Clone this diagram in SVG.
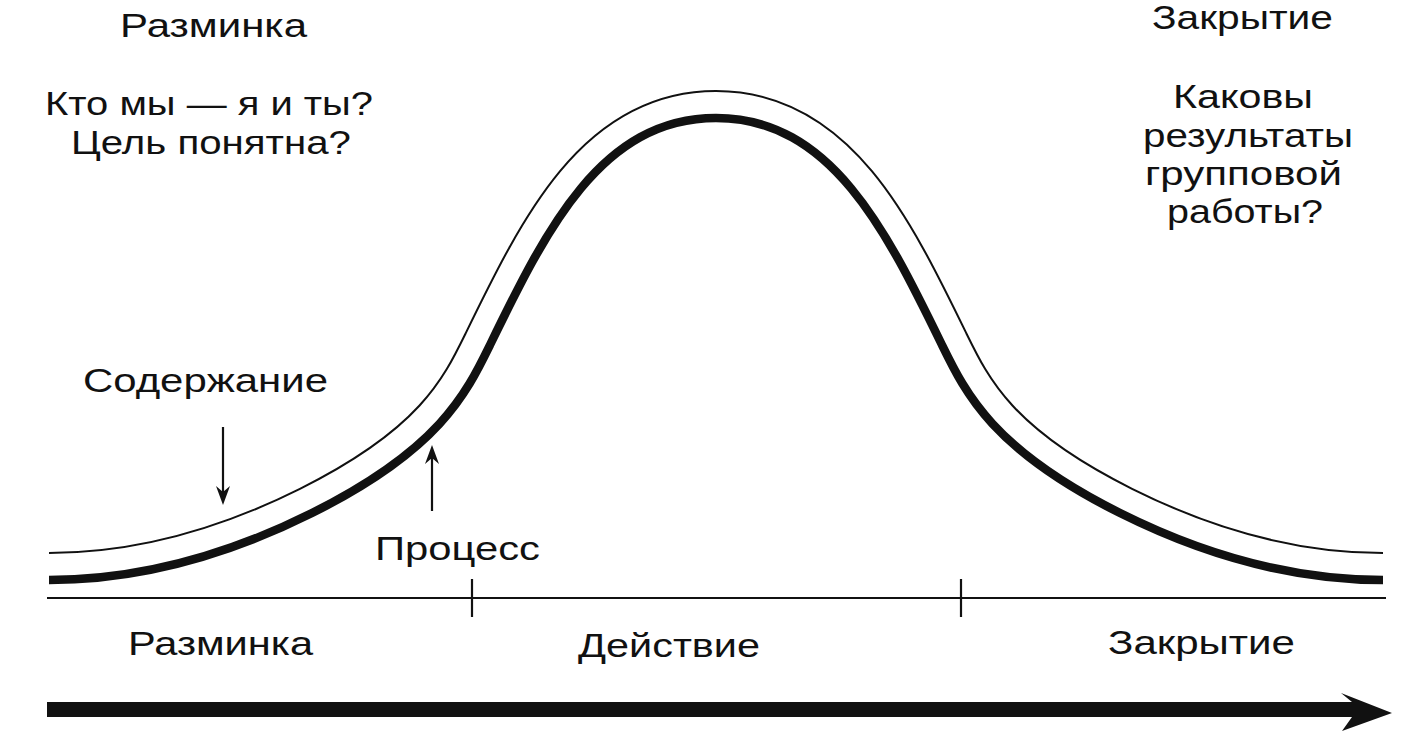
<svg xmlns="http://www.w3.org/2000/svg" width="1417" height="743" viewBox="0 0 1417 743">
<style>
  text { font-family: "Liberation Sans", Arial, sans-serif; font-size: 33px; fill: #111; }
  .ln { fill: none; stroke: #111; stroke-width: 2.2; }
  .arr { fill: none; stroke: #111; stroke-width: 2.2; marker-end: url(#ah); }
</style>
<defs>
  <path id="bell" d="M49,580 C159,580 252,543 312,513 C439,449.6 466,394 490,345 C546,230 601,118 716,118 C831,118 886,230 942,345 C966,394 993,449.6 1120,513 C1180,543 1273,580 1383,580"/>
  <clipPath id="above">
    <path d="M49,580 C159,580 252,543 312,513 C439,449.6 466,394 490,345 C546,230 601,118 716,118 C831,118 886,230 942,345 C966,394 993,449.6 1120,513 C1180,543 1273,580 1383,580 L1417,580 L1417,0 L0,0 L0,580 Z"/>
  </clipPath>
  <marker id="ah" viewBox="-22 -10 24 20" refX="-8" refY="0" markerWidth="24" markerHeight="20" markerUnits="userSpaceOnUse" orient="auto">
    <path d="M0,0 L-19,-7 L-13,0 L-19,7 Z" fill="#111"/>
  </marker>
</defs>
<rect width="1417" height="743" fill="#fff"/>

<g id="curves">
  <g id="content-curve" clip-path="url(#above)">
    <use href="#bell" fill="none" stroke="#111" stroke-width="56"/>
    <use href="#bell" fill="none" stroke="#fff" stroke-width="52"/>
  </g>
  <g id="process-curve">
    <use href="#bell" fill="none" stroke="#111" stroke-width="8.5"/>
  </g>
</g>

<g id="axis">
  <line class="ln" x1="47" y1="598" x2="1386" y2="598"/>
  <line class="ln" x1="472" y1="579" x2="472" y2="617"/>
  <line class="ln" x1="961" y1="579" x2="961" y2="617"/>
</g>

<g id="connectors">
  <path class="arr" d="M223,427 L223,497"/>
  <path class="arr" d="M432,511 L432,453"/>
</g>

<g id="time-arrow">
  <path d="M47,702 L1352,702 L1341,693 L1392,713 L1342,731 L1352,717 L47,717 Z" fill="#111"/>
</g>

<g id="top-left-note">
  <text x="120" y="37" textLength="187" lengthAdjust="spacingAndGlyphs">Разминка</text>
  <text x="45" y="115" textLength="328" lengthAdjust="spacingAndGlyphs">Кто мы — я и ты?</text>
  <text x="71" y="154" textLength="280" lengthAdjust="spacingAndGlyphs">Цель понятна?</text>
</g>

<g id="top-right-note">
  <text x="1152" y="29" textLength="181" lengthAdjust="spacingAndGlyphs">Закрытие</text>
  <text x="1173" y="108" textLength="140" lengthAdjust="spacingAndGlyphs">Каковы</text>
  <text x="1143" y="147" textLength="210" lengthAdjust="spacingAndGlyphs">результаты</text>
  <text x="1145" y="185" textLength="197" lengthAdjust="spacingAndGlyphs">групповой</text>
  <text x="1167" y="223" textLength="156" lengthAdjust="spacingAndGlyphs">работы?</text>
</g>

<g id="label-content">
  <text x="83" y="392" textLength="245" lengthAdjust="spacingAndGlyphs">Содержание</text>
</g>
<g id="label-process">
  <text x="375" y="560" textLength="165" lengthAdjust="spacingAndGlyphs">Процесс</text>
</g>

<g id="phase-labels">
  <text x="128" y="655" textLength="185" lengthAdjust="spacingAndGlyphs">Разминка</text>
  <text x="578" y="657" textLength="182" lengthAdjust="spacingAndGlyphs">Действие</text>
  <text x="1108" y="654" textLength="187" lengthAdjust="spacingAndGlyphs">Закрытие</text>
</g>
</svg>
